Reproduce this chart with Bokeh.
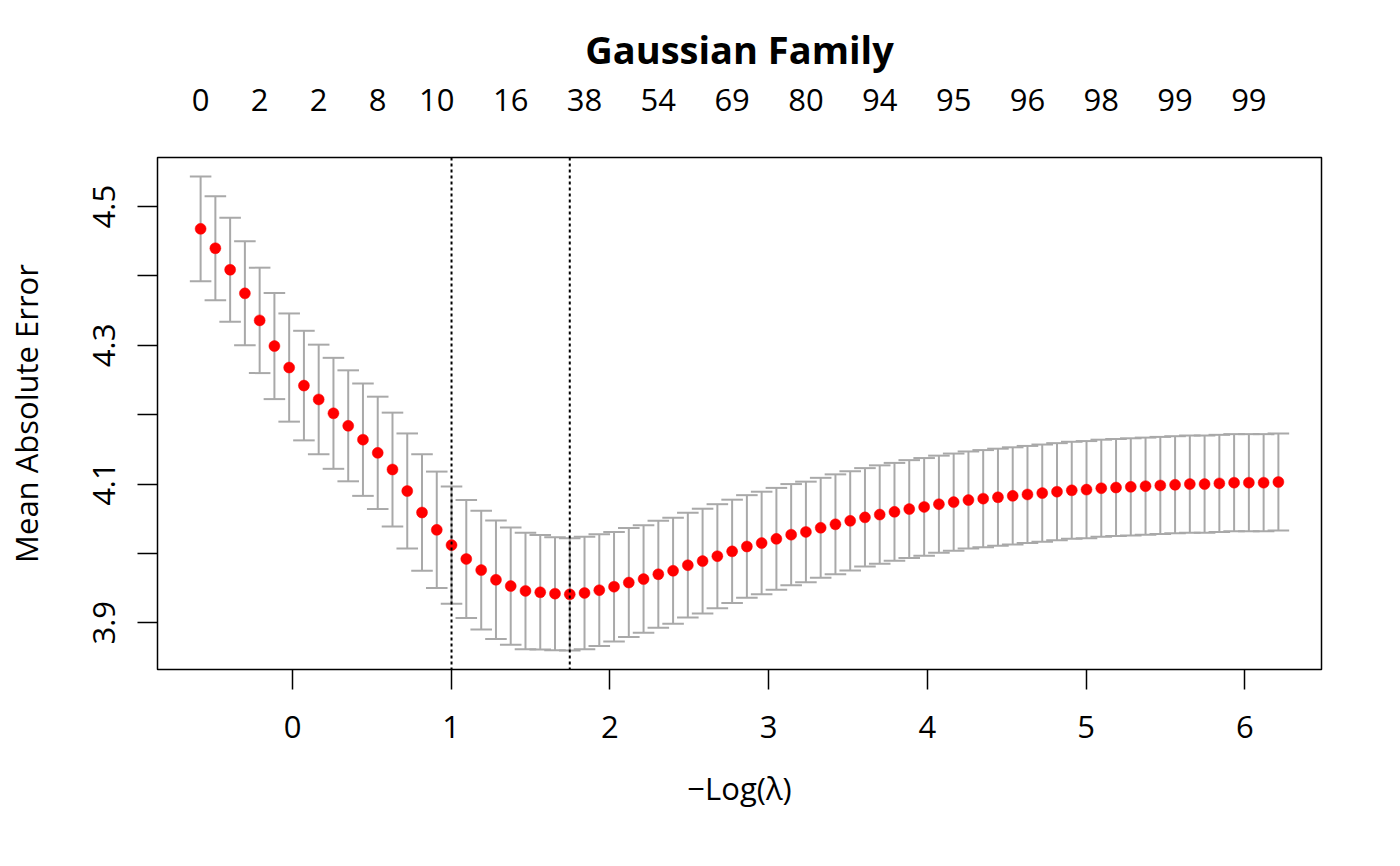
import numpy as np
from bokeh.plotting import figure
from bokeh.models import Range1d, FixedTicker, LinearAxis, Span
from bokeh.embed import file_html
from bokeh.resources import INLINE

# -Log(lambda) for each fitted lambda
neg_log_lambda = [
    -0.579, -0.486, -0.393, -0.300, -0.207, -0.114, -0.021, 0.072, 0.165, 0.258,
    0.351, 0.444, 0.537, 0.630, 0.723, 0.816, 0.909, 1.002, 1.095, 1.189,
    1.282, 1.375, 1.468, 1.561, 1.654, 1.747, 1.840, 1.933, 2.026, 2.119,
    2.212, 2.305, 2.398, 2.491, 2.584, 2.677, 2.770, 2.863, 2.956, 3.049,
    3.142, 3.235, 3.328, 3.421, 3.514, 3.607, 3.700, 3.793, 3.886, 3.980,
    4.073, 4.166, 4.259, 4.352, 4.445, 4.538, 4.631, 4.724, 4.817, 4.910,
    5.003, 5.096, 5.189, 5.282, 5.375, 5.468, 5.561, 5.654, 5.747, 5.840,
    5.933, 6.026, 6.119, 6.212,
]

# cross-validated mean absolute error
cvm = [
    4.468, 4.440, 4.409, 4.375, 4.336, 4.299, 4.268, 4.242, 4.222, 4.202,
    4.184, 4.164, 4.145, 4.121, 4.090, 4.059, 4.034, 4.012, 3.992, 3.976,
    3.962, 3.953, 3.946, 3.944, 3.942, 3.941, 3.943, 3.947, 3.952, 3.958,
    3.963, 3.970, 3.975, 3.983, 3.989, 3.996, 4.003, 4.010, 4.015, 4.021,
    4.027, 4.031, 4.037, 4.042, 4.047, 4.052, 4.056, 4.060, 4.064, 4.067,
    4.071, 4.074, 4.077, 4.079, 4.081, 4.083, 4.085, 4.087, 4.089, 4.091,
    4.092, 4.094, 4.095, 4.096, 4.097, 4.098, 4.099, 4.100, 4.100, 4.101,
    4.102, 4.102, 4.102, 4.103,
]

# standard error of the CV estimate
cvsd = [
    0.0755, 0.075, 0.075, 0.075, 0.076, 0.0765, 0.078, 0.079, 0.079, 0.080,
    0.080, 0.081, 0.081, 0.082, 0.083, 0.084, 0.084, 0.0845, 0.085, 0.0855,
    0.0855, 0.0845, 0.084, 0.0825, 0.0815, 0.081, 0.081, 0.0805, 0.079, 0.0785,
    0.0775, 0.077, 0.0765, 0.0755, 0.0755, 0.075, 0.0745, 0.074, 0.074, 0.0735,
    0.073, 0.0725, 0.072, 0.072, 0.0715, 0.071, 0.071, 0.0705, 0.0705, 0.0705,
    0.070, 0.070, 0.070, 0.070, 0.070, 0.070, 0.070, 0.070, 0.070, 0.070,
    0.070, 0.070, 0.070, 0.070, 0.070, 0.070, 0.070, 0.070, 0.070, 0.070,
    0.070, 0.070, 0.070, 0.070,
]

# number of non-zero coefficients shown on the top axis
top_idx = [0, 4, 8, 12, 16, 21, 26, 31, 36, 41, 46, 51, 56, 61, 66, 71]
nzero_labels = ["0", "2", "2", "8", "10", "16", "38", "54", "69", "80",
                "94", "95", "96", "98", "99", "99"]

idx_min = 25   # lambda.min
idx_1se = 17   # lambda.1se

x_ticks = [0, 1, 2, 3, 4, 5, 6]
y_major = [3.9, 4.1, 4.3, 4.5]
y_minor = [4.0, 4.2, 4.4]

FONT = "Open Sans"
FS = "31px"

x = np.array(neg_log_lambda)
m = np.array(cvm)
s = np.array(cvsd)
up = m + s
lo = m - s
xr = x.max() - x.min()
yr = up.max() - lo.min()

p = figure(
    frame_width=1164, frame_height=512,
    min_border_left=157, min_border_right=63,
    min_border_top=157, min_border_bottom=181,
    x_range=Range1d(x.min() - 0.04 * xr, x.max() + 0.04 * xr),
    y_range=Range1d(lo.min() - 0.04 * yr, up.max() + 0.04 * yr),
    output_backend="svg", toolbar_location=None,
    background_fill_color="white", border_fill_color="white",
)
p.xgrid.visible = False
p.ygrid.visible = False
p.outline_line_color = "black"
p.outline_line_width = 1.5
p.outline_line_alpha = 1.0

# title
p.title.text = "Gaussian Family"
p.title.text_font = FONT
p.title.text_font_size = "38px"
p.title.text_font_style = "bold"
p.title.align = "center"
p.title.text_color = "black"
p.title.standoff = 21

# error bars
w = 0.01 * xr
grey = "#A9A9A9"
p.segment(x, lo, x, up, line_color=grey, line_width=2)
p.segment(x - w, up, x + w, up, line_color=grey, line_width=2)
p.segment(x - w, lo, x + w, lo, line_color=grey, line_width=2)

# points
p.scatter(x, m, size=11, fill_color="red", line_color="red", line_width=0.5)

# vertical reference lines
for i in (idx_min, idx_1se):
    p.add_layout(Span(location=neg_log_lambda[i], dimension="height",
                      line_color="black", line_dash="3 3", line_width=2))

# bottom axis
xa = p.xaxis[0]
xa.ticker = FixedTicker(ticks=x_ticks)
xa.axis_label = "\u2212Log(\u03bb)"
xa.axis_line_color = None
xa.major_tick_out = 20
xa.major_tick_in = 0
xa.major_tick_line_width = 1.5
xa.major_tick_line_color = "black"
xa.major_label_standoff = 26
xa.axis_label_standoff = 26

# left axis
ya = p.yaxis[0]
ya.ticker = FixedTicker(ticks=y_major, minor_ticks=y_minor)
ya.axis_label = "Mean Absolute Error"
ya.axis_line_color = None
ya.major_tick_out = 20
ya.major_tick_in = 0
ya.minor_tick_out = 20
ya.minor_tick_in = 0
ya.major_tick_line_width = 1.5
ya.minor_tick_line_width = 1.5
ya.major_tick_line_color = "black"
ya.minor_tick_line_color = "black"
ya.major_label_orientation = "vertical"
ya.major_label_standoff = 22
ya.axis_label_standoff = 44

# top axis with the number of non-zero coefficients
top_pos = [neg_log_lambda[i] for i in top_idx]
ta = LinearAxis(
    ticker=FixedTicker(ticks=top_pos),
    major_label_overrides={float(pos): lab for pos, lab in zip(top_pos, nzero_labels)},
    major_tick_out=0, major_tick_in=0, minor_tick_out=0, minor_tick_in=0,
    axis_line_color=None, major_label_standoff=47,
)
p.add_layout(ta, "above")

for ax in (xa, ya, ta):
    ax.major_label_text_font = FONT
    ax.major_label_text_font_size = FS
    ax.major_label_text_color = "black"
    ax.axis_label_text_font = FONT
    ax.axis_label_text_font_size = FS
    ax.axis_label_text_font_style = "normal"
    ax.axis_label_text_color = "black"

open("out.html", "w").write(file_html(p, INLINE))
